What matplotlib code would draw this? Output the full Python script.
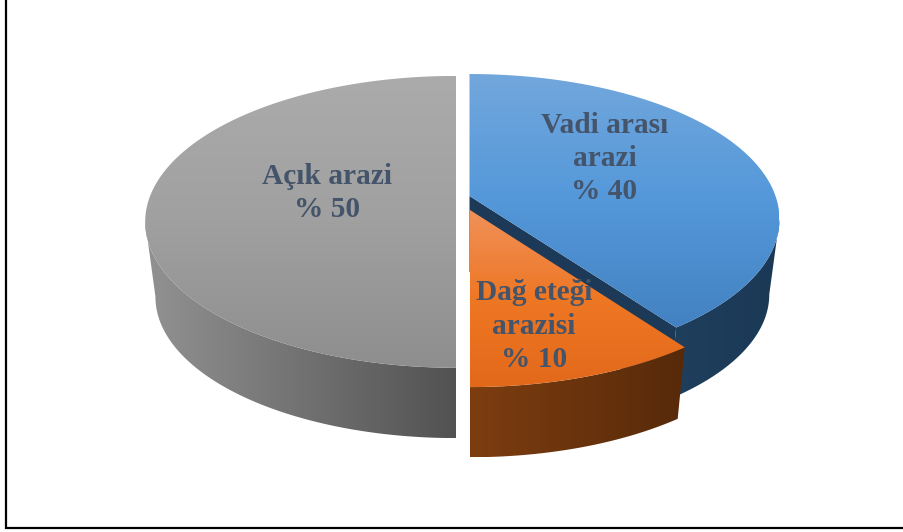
import numpy as np
import matplotlib
matplotlib.use('Agg')
import matplotlib.pyplot as plt
from matplotlib.colors import LinearSegmentedColormap
from matplotlib.patches import Polygon

# slices, clockwise from 12 o'clock
labels = ['Vadi arası\narazi\n% 40', 'Dağ eteği\narazisi\n% 10', 'Açık arazi\n% 50']
shares = [40, 10, 50]

# per slice look: apex of the wedge in pixels, radii, foreshortening, label position, colours
centers = [(469.5, 196), (470, 210), (456, 195)]
radii = [(306, 141.5), (311, 144.5), (305.5, 141)]
persp = [0.16, 0.184, 0.184]
label_pos = [(604.5, 158.5), (534, 326), (327, 193)]
top_colors = [['#72a7dc', '#5498da', '#4382c2'],
              ['#f0915a', '#ee7724', '#e2691a'],
              ['#ababab', '#a0a0a0', '#8e8e8e']]
side_colors = [['#1f3f5e', '#1b3955'],
               ['#7d3d10', '#572a0a'],
               ['#929292', '#525252']]
cut_color = '#1c3a57'

depth = 76
base_scale = 0.967

fig = plt.figure(figsize=(9.04, 5.32), dpi=100)
ax = fig.add_axes([0, 0, 1, 1])


def top_xy(angles, c, r, k):
    a = np.radians(angles)
    u, v = np.cos(a), np.sin(a)
    den = 1 + k * v
    return c[0] + r[0] * u / den, c[1] - r[1] * v / den


def base_xy(x, y, c):
    return c[0] + base_scale * (x - c[0]), c[1] + base_scale * (y - c[1]) + depth


def fill_gradient(pts, colors, vertical=True):
    pts = np.asarray(pts)
    x0, y0 = pts.min(axis=0)
    x1, y1 = pts.max(axis=0)
    cmap = LinearSegmentedColormap.from_list('g', colors)
    grad = np.linspace(0, 1, 256)
    grad = grad[:, None] if vertical else grad[None, :]
    im = ax.imshow(grad, cmap=cmap, extent=(x0, x1, y1, y0), aspect='auto',
                   origin='upper', interpolation='bilinear', vmin=0, vmax=1)
    poly = Polygon(pts, closed=True, transform=ax.transData, fc='none', ec='none')
    ax.add_patch(poly)
    im.set_clip_path(poly)


def draw_slice(i, a0, a1):
    c, r = centers[i], radii[i]
    ang = np.linspace(a0, a1, 300)
    x, y = top_xy(ang, c, r, persp[i])
    bx, by = base_xy(x, y, c)

    # outer wall only up to the silhouette of the disc, front side only
    if x.max() > c[0] + r[0]:
        keep = ang <= ang[np.argmax(x)]
    elif x.min() < c[0] - r[0]:
        keep = ang >= ang[np.argmin(x)]
    else:
        keep = np.ones_like(ang, dtype=bool)
    wall = np.r_[np.c_[x[keep], y[keep]], np.c_[bx[keep], by[keep]][::-1]]
    fill_gradient(wall, side_colors[i], vertical=False)

    # cut face seen from the front, under the slice below it
    if i == 0:
        ax.add_patch(Polygon([c, (x[0], y[0]), (bx[0], by[0]), (c[0], c[1] + depth)],
                             closed=True, fc=cut_color, ec='none', zorder=0))

    fill_gradient(np.r_[[c], np.c_[x, y]], top_colors[i])


ends = 90 - np.cumsum([0] + shares) * 3.6
for i in [2, 0, 1]:
    # walk each slice from its clockwise end so angles always increase
    draw_slice(i, ends[i + 1], ends[i])

for txt, pos in zip(labels, label_pos):
    ax.text(pos[0], pos[1], txt, ha='center', va='center', family='Liberation Serif',
            weight='bold', fontsize=21.2, color='#44546a', linespacing=1.3)

ax.plot([6.5, 6.5, 904], [0, 527.5, 527.5], color='black', lw=1.6, solid_joinstyle='miter')

ax.set_xlim(0, 904)
ax.set_ylim(532, 0)
ax.axis('off')

fig.savefig('out.png', dpi=100)
